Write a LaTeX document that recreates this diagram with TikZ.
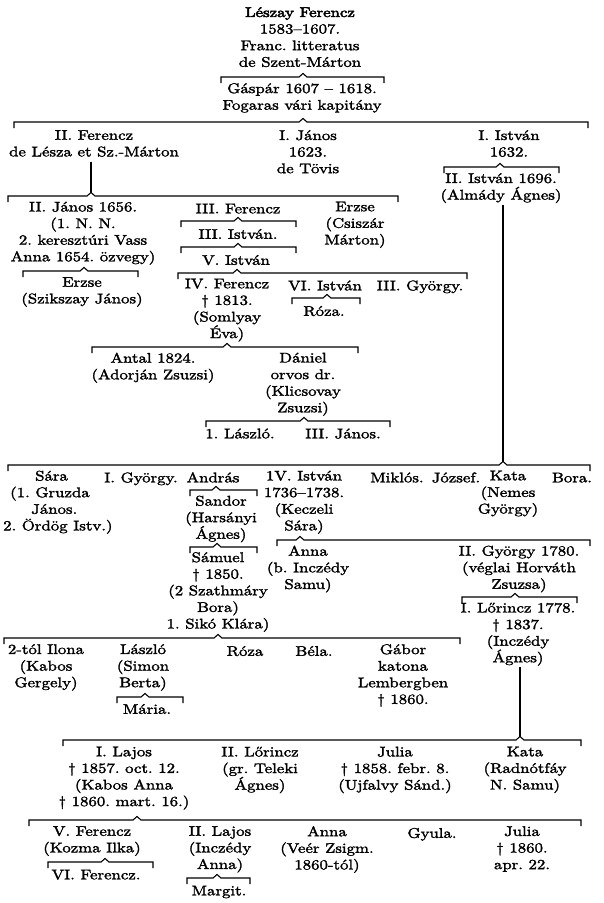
\documentclass[tikz,border=0pt]{standalone}
\usepackage{fontspec}
\newfontfamily\gfont{lmroman10-regular.otf}[FakeStretch=1.2,FakeBold=2]
\newfontfamily\gtfont{lmroman10-regular.otf}[FakeStretch=1.2,FakeBold=3.5]
\tikzset{
  txt/.style={anchor=north, yshift=7pt, align=center, inner sep=0pt,
    font=\gfont\fontsize{14}{16.6}\selectfont\frenchspacing,
    execute at begin node=\strut, execute at end node=\strut},
  br/.style={line width=1.1pt, line join=miter, line cap=butt},
}
\newcommand\blk[4]{\node[txt] (#1) at (#2,#3) {#4};}
% bracket: name, x-left, x-right, x-caret, y
\newcommand\brk[5]{%
  \coordinate (#1) at (#4,{#5-3.5});
  \draw[br] (#2,{#5+6}) -- (#2,#5) -- ({#4-4},#5) -- (#1) -- ({#4+4},#5) -- (#3,#5) -- (#3,{#5+6});}
\begin{document}
\begin{tikzpicture}[x=1pt,y=-1pt]
\fill[white] (0,0) rectangle (603,903);
\useasboundingbox (0,0) rectangle (603,903);

% top
\blk{T1}{300}{14}{{\gtfont Lészay Ferencz}\\1583–1607.\\Franc. litteratus\\de Szent-Márton}
\brk{bA}{221}{384}{303}{77}
\blk{T2}{302}{90}{Gáspár 1607 – 1618.\\Fogaras vári kapitány}
\brk{bB}{14}{588}{303}{122}

% level 2
\blk{N1}{94}{137}{II. Ferencz\\de Lésza et Sz.-Márton}
\blk{N2}{308}{137}{I. János\\1623.\\de Tövis}
\blk{N3}{509}{137}{I. István\\1632.}
\brk{bE}{444}{559}{500}{167}
\blk{N4}{501}{180}{II. István 1696.\\(Almády Ágnes)}

% II. Ferencz branch
\brk{bC}{8}{398}{91}{196}
\draw[br] (N1.south -| bC) -- (bC);
\blk{N5}{83}{208.5}{II. János 1656.\\(1. N. N.\\2. keresztúri Vass\\Anna 1654. özvegy)}
\brk{bD}{23}{138}{84}{271}
\blk{N6}{82}{284}{Erzse\\(Szikszay János)}
\blk{N7}{238}{208.5}{III. Ferencz}
\brk{bG}{181}{296}{238}{221}
\blk{N8}{238}{234}{III. István.}
\brk{bH}{181}{296}{238}{247}
\blk{N9}{236}{260}{V. István}
\brk{bI}{178}{467}{237}{273}
\blk{N10}{355}{208.5}{Erzse\\(Csiszár\\Márton)}
\blk{N11}{227}{285.5}{IV. Ferencz\\† 1813.\\(Somlyay\\Éva)}
\blk{N12}{325}{285.5}{VI. István}
\brk{bK}{292}{360}{327}{298}
\blk{N13}{324}{311}{Róza.}
\blk{N14}{420}{285.5}{III. György.}
\brk{bJ}{92}{358}{227}{347}
\blk{N15}{153}{359.5}{Antal 1824.\\(Adorján Zsuzsi)}
\blk{N16}{303}{359.5}{Dániel\\orvos dr.\\(Klicsovay\\Zsuzsi)}
\brk{bL}{206}{390}{304}{421}
\blk{N17}{240}{433.5}{1. László.}
\blk{N18}{343}{433.5}{III. János.}

% I. István branch
\brk{bM}{8}{590}{503}{465}
\draw[br] (N4.south -| bM) -- (bM);
\node[txt, anchor=north west, align=left] (N19) at (3,477.5)
  {\hspace*{32pt}Sára\\\hspace*{7pt}(1. Gruzda\\\hspace*{28pt}János.\\2. Ördög Istv.)};
\blk{N20}{141}{477.5}{I. György.}
\blk{N21}{213}{477.5}{András}
\brk{bN}{190}{257}{216}{490}
\blk{N22}{221}{502.5}{Sandor\\(Harsányi\\Ágnes)}
\brk{bO}{190}{257}{217}{547}
\blk{N23}{218}{559}{Sámuel\\† 1850.\\(2 Szathmáry\\Bora)\\1. Sikó Klára)}
\blk{N24}{304}{477.5}{1V. István\\1736–1738.\\(Keczeli\\Sára)}
\blk{N25}{397}{477.5}{Miklós.}
\blk{N26}{456}{477.5}{József.}
\blk{N27}{508}{477.5}{Kata\\(Nemes\\György)}
\blk{N28}{572}{477.5}{Bora.}
\brk{bQ}{277}{590}{300}{540}
\blk{N29}{308}{552.5}{Anna\\(b. Inczédy\\Samu)}
\blk{N30}{519}{552.5}{II. György 1780.\\(véglai Horváth\\Zsuzsa)}
\brk{bR}{462}{577}{515}{597}
\blk{N31}{518}{609.5}{I. Lőrincz 1778.\\† 1837.\\(Inczédy\\Ágnes)}

% Sámuel's children
\brk{bP}{4}{460}{218}{638}
\blk{N32}{46}{651}{2-tól Ilona\\(Kabos\\Gergely)}
\blk{N33}{143}{651}{László\\(Simon\\Berta)}
\brk{bS}{117}{183}{145}{697}
\blk{N34}{147}{709}{Mária.}
\blk{N35}{245}{651}{Róza}
\blk{N36}{314}{651}{Béla.}
\blk{N37}{403}{651}{Gábor\\katona\\Lembergben\\† 1860.}

% I. Lőrincz's children
\brk{bT}{63}{581}{520}{740}
\draw[br] (N31.south -| bT) -- (bT);
\blk{N38}{124}{753.5}{I. Lajos\\† 1857. oct. 12.\\(Kabos Anna\\† 1860. mart. 16.)}
\blk{N39}{260}{753.5}{II. Lőrincz\\(gr. Teleki\\Ágnes)}
\blk{N40}{395}{753.5}{Julia\\† 1858. febr. 8.\\(Ujfalvy Sánd.)}
\blk{N41}{525}{753.5}{Kata\\(Radnótfáy\\N. Samu)}

% I. Lajos's children
\brk{bU}{29}{581}{137}{820}
\blk{N42}{92}{833}{V. Ferencz\\(Kozma Ilka)}
\brk{bV}{48}{153}{105}{862}
\blk{N43}{96}{874.5}{VI. Ferencz.}
\blk{N44}{220}{833}{II. Lajos\\(Inczédy\\Anna)}
\brk{bW}{187}{250}{217}{878}
\blk{N45}{219}{890.5}{Margit.}
\blk{N46}{327}{833}{Anna\\(Veér Zsigm.\\1860-tól)}
\blk{N47}{432}{833}{Gyula.}
\blk{N48}{522}{833}{Julia\\† 1860.\\apr. 22.}
\end{tikzpicture}
\end{document}
